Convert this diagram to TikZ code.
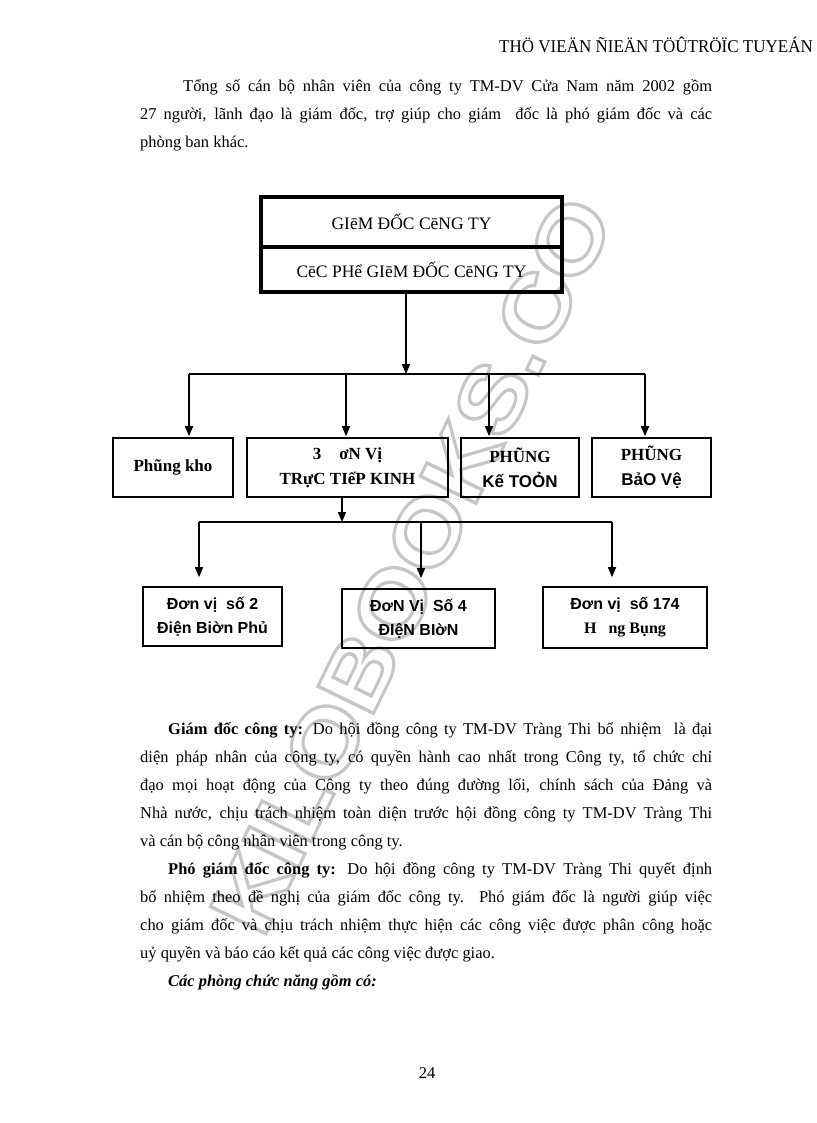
\documentclass[tikz,border=0pt]{standalone}
\usepackage{fontspec}
\setmainfont{Liberation Serif}
\setsansfont{Liberation Sans}
\usetikzlibrary{arrows.meta}
\begin{document}
\begin{tikzpicture}[x=1pt,y=-1pt,
  txt/.style={anchor=base west, inner sep=0pt, font=\fontsize{16.45}{28}\selectfont},
  box/.style={draw, line width=1.6pt, inner sep=0pt, align=center},
  topbox/.style={draw, line width=3.3pt, inner sep=0pt, align=center, minimum width=301pt, font=\fontsize{17.5}{20}\selectfont},
  bx/.style={font=\bfseries\fontsize{17}{25}\selectfont},
  sbx/.style={font=\sffamily\bfseries\fontsize{16}{24}\selectfont},
  conn/.style={line width=1.6pt},
  arr/.style={line width=1.6pt, -{Triangle[length=10pt,width=8pt]}},
]
\useasboundingbox (0,0) rectangle (816,1123);
\fill[white] (0,0) rectangle (816,1123);

% watermark (outlined letters)
\node[anchor=base west, inner sep=0pt, rotate=64, text=gray!45,
      font=\sffamily\bfseries\fontsize{90}{90}\selectfont] (wm) at (263,940)
      {\special{pdf:literal direct 1 Tr 3 w}\scalebox{1.14}[1]{KILOBOOKS.CO}\special{pdf:literal direct 0 Tr 1 w}};

% header
\node[txt, font=\fontsize{18}{20}\selectfont] (hdr) at (499,53) {\scalebox{0.945}[1]{THÖ VIEÄN ÑIEÄN TÖÛTRÖÏC TUYEÁN}};

% intro paragraph
\node[txt] (p1a) at (183,92) {\makebox[529pt][s]{Tổng số cán bộ nhân viên của công ty TM-DV Cửa Nam năm 2002 gồm}};
\node[txt] (p1b) at (140,120) {\makebox[572pt][s]{27 người, lãnh đạo là giám đốc, trợ giúp cho giám\ \ đốc là phó giám đốc và các}};
\node[txt] (p1c) at (140,148) {phòng ban khác.};

% top boxes
\node[topbox, minimum height=50pt] (gd) at (411.5,222) {GIēM ĐỐC CēNG TY};
\node[topbox, minimum height=45pt] (pgd) at (411.5,269.5) {CēC PHể GIēM ĐỐC CēNG TY};

% row boxes
\node[box, bx, minimum width=120pt, minimum height=59pt] (kho) at (173,467.5) {Phũng kho};
\node[box, bx, minimum width=201pt, minimum height=59pt] (dv3) at (347.5,467.5) {3\hspace{18pt}ơN Vị\\TRựC TIếP KINH};
\node[box, bx, minimum width=118pt, minimum height=59pt] (kt) at (520,467.5) {PHŨNG\\{\sffamily Kế TOỎN}};
\node[box, bx, minimum width=119pt, minimum height=59pt] (bv) at (651.5,467.5) {PHŨNG\\{\sffamily BảO Vệ}};

% bottom boxes
\node[box, sbx, minimum width=139pt, minimum height=59pt] (b1) at (212.5,616.5) {Đơn vị\ \ số 2\\Điện Biờn Phủ};
\node[box, sbx, minimum width=153pt, minimum height=59pt] (b2) at (418.5,618.5) {ĐơN Vị\ \ Số 4\\ĐIệN BIờN};
\node[box, sbx, minimum width=164pt, minimum height=61pt] (b3) at (625,617.5) {Đơn vị\ \ số 174\\{\rmfamily H\hspace{12pt}ng Bụng}};

% connectors level 1
\coordinate (j1) at (406,374);
\coordinate (j1l) at (189,374);
\coordinate (j1r) at (645,374);
\coordinate (j1b) at (346,374);
\coordinate (j1c) at (489,374);
\draw[arr] (pgd.south -| j1) -- (j1);
\draw[conn] (j1l) -- (j1r);
\draw[arr, shorten >=1pt] (j1l) -- (j1l |- kho.north);
\draw[arr, shorten >=1pt] (j1b) -- (j1b |- dv3.north);
\draw[arr, shorten >=1pt] (j1c) -- (j1c |- kt.north);
\draw[arr, shorten >=1pt] (j1r) -- (j1r |- bv.north);

% connectors level 2
\coordinate (j2) at (342,522);
\coordinate (j2l) at (199,522);
\coordinate (j2m) at (421,522);
\coordinate (j2r) at (612,522);
\draw[arr] (dv3.south -| j2) -- (j2);
\draw[conn] (j2l) -- (j2r);
\draw[arr, shorten >=9pt] (j2l) -- (j2l |- b1.north);
\draw[arr, shorten >=10pt] (j2m) -- (j2m |- b2.north);
\draw[arr, shorten >=9pt] (j2r) -- (j2r |- b3.north);

% body text
\node[txt] (q1) at (168,734) {\makebox[544pt][s]{\textbf{Giám đốc công ty:} Do hội đồng công ty TM-DV Tràng Thi bổ nhiệm\ \ là đại}};
\node[txt] (q2) at (140,762) {\makebox[572pt][s]{diện pháp nhân của công ty, có quyền hành cao nhất trong Công ty, tổ chức chỉ}};
\node[txt] (q3) at (140,790) {\makebox[572pt][s]{đạo mọi hoạt động của Công ty theo đúng đường lối, chính sách của Đảng và}};
\node[txt] (q4) at (140,818) {\makebox[572pt][s]{Nhà nước, chịu trách nhiệm toàn diện trước hội đồng công ty TM-DV Tràng Thi}};
\node[txt] (q5) at (140,846) {và cán bộ công nhân viên trong công ty.};

\node[txt] (r1) at (168,874) {\makebox[544pt][s]{\textbf{Phó giám đốc công ty:} Do hội đồng công ty TM-DV Tràng Thi quyết định}};
\node[txt] (r2) at (140,902) {\makebox[572pt][s]{bổ nhiệm theo đề nghị của giám đốc công ty. Phó giám đốc là người giúp việc}};
\node[txt] (r3) at (140,930) {\makebox[572pt][s]{cho giám đốc và chịu trách nhiệm thực hiện các công việc được phân công hoặc}};
\node[txt] (r4) at (140,958) {uỷ quyền và báo cáo kết quả các công việc được giao.};
\node[txt] (r5) at (168,986) {\textbf{\textit{Các phòng chức năng gồm có:}}};

% page number
\node[txt, anchor=base] (pg) at (427,1078) {24};
\end{tikzpicture}
\end{document}
